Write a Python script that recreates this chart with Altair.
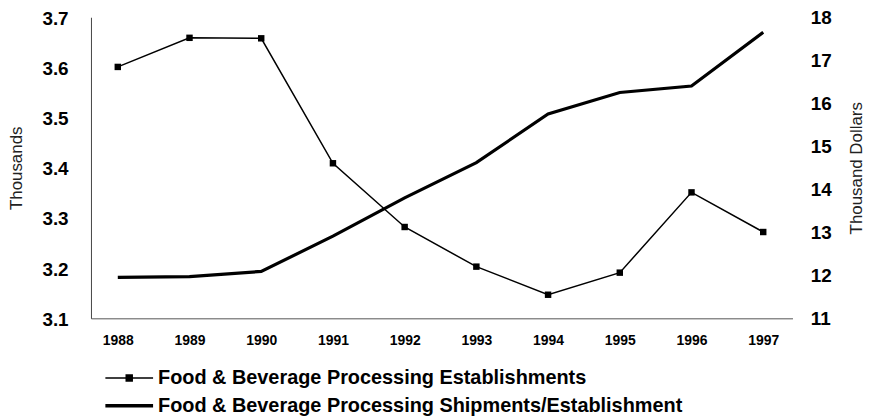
import altair as alt
import pandas as pd

years = [1988, 1989, 1990, 1991, 1992, 1993, 1994, 1995, 1996, 1997]
establishments = [3.601, 3.659, 3.658, 3.409, 3.282, 3.203, 3.147, 3.191, 3.351, 3.272]
shipments = [11.95, 11.97, 12.09, 12.91, 13.80, 14.62, 15.75, 16.25, 16.40, 17.65]
left_ticks = [3.1, 3.2, 3.3, 3.4, 3.5, 3.6, 3.7]
right_ticks = [11, 12, 13, 14, 15, 16, 17, 18]
series_est = "Food & Beverage Processing Establishments"
series_ship = "Food & Beverage Processing Shipments/Establishment"

df = pd.DataFrame({
    "year": years,
    "est": establishments,
    "ship": shipments,
    "s1": [series_est] * len(years),
    "s2": [series_ship] * len(years),
})

FONT = "Liberation Sans, Arial, Helvetica, sans-serif"

x = alt.X(
    "year:Q",
    scale=alt.Scale(domain=[1987.626, 1997.408], nice=False, zero=False),
    axis=alt.Axis(
        values=years, format="d", title=None, ticks=False, grid=False,
        labelFont=FONT, labelFontSize=14, labelFontWeight="bold", labelColor="black",
        labelPadding=15, domainColor="#555555", domainWidth=1, labelFlush=False,
    ),
)

base = alt.Chart(df)

est_line = base.mark_line(color="black", strokeWidth=1.5).encode(
    x=x,
    y=alt.Y(
        "est:Q",
        scale=alt.Scale(domain=[3.1, 3.7], nice=False, zero=False),
        axis=alt.Axis(
            orient="left", values=left_ticks, format=".1f", ticks=False, grid=False,
            labelFont=FONT, labelFontSize=19, labelFontWeight="bold", labelColor="black",
            labelPadding=23, labelOffset=1, domainColor="#444444", domainWidth=1,
            title="Thousands", titleFont=FONT, titleFontSize=17, titleFontWeight="normal",
            titleColor="#222222", titlePadding=16,
        ),
    ),
    color=alt.Color(
        "s1:N",
        scale=alt.Scale(domain=[series_est], range=["black"]),
        legend=alt.Legend(
            title=None, orient="none", legendX=28.5, legendY=353, padding=0,
            symbolType="M-4,0H4M-0.5,-0.5H0.5V0.5H-0.5Z", symbolSize=144,
            symbolStrokeWidth=1.5, symbolFillColor="black", symbolStrokeColor="black",
            labelOffset=19, labelFont=FONT, labelFontSize=20, labelFontWeight="bold",
            labelColor="black", labelLimit=700,
        ),
    ),
)

est_pts = base.mark_square(size=42, color="black", opacity=1).encode(
    x=x,
    y=alt.Y("est:Q", scale=alt.Scale(domain=[3.1, 3.7], nice=False, zero=False)),
)

ship_line = base.mark_line(color="black", strokeWidth=3.2).encode(
    x=x,
    y=alt.Y(
        "ship:Q",
        scale=alt.Scale(domain=[11, 18], nice=False, zero=False),
        axis=alt.Axis(
            orient="right", values=right_ticks, format="d", ticks=False, grid=False,
            labelFont=FONT, labelFontSize=19, labelFontWeight="bold", labelColor="black",
            labelPadding=18, domain=False,
            title="Thousand Dollars", titleFont=FONT, titleFontSize=17,
            titleFontWeight="normal", titleColor="#222222", titleAngle=270, titlePadding=34,
        ),
    ),
    color=alt.Color(
        "s2:N",
        scale=alt.Scale(domain=[series_ship], range=["black"]),
        legend=alt.Legend(
            title=None, orient="none", legendX=28.5, legendY=381, padding=0,
            symbolType="M-4,0H4", symbolSize=144,
            symbolStrokeWidth=3.5, symbolStrokeColor="black",
            labelOffset=19, labelFont=FONT, labelFontSize=20, labelFontWeight="bold",
            labelColor="black", labelLimit=800,
        ),
    ),
)

chart = (
    alt.layer(alt.layer(est_line, est_pts), ship_line)
    .resolve_scale(y="independent", color="independent")
    .properties(
        width=706, height=303,
        autosize=alt.AutoSizeParams(type="none"),
        padding={"left": 83.5, "top": 8, "right": 76, "bottom": 97},
        background="white",
    )
    .configure_view(stroke=None)
)

chart.save("out.html", embed_options={"renderer": "svg", "actions": False})
